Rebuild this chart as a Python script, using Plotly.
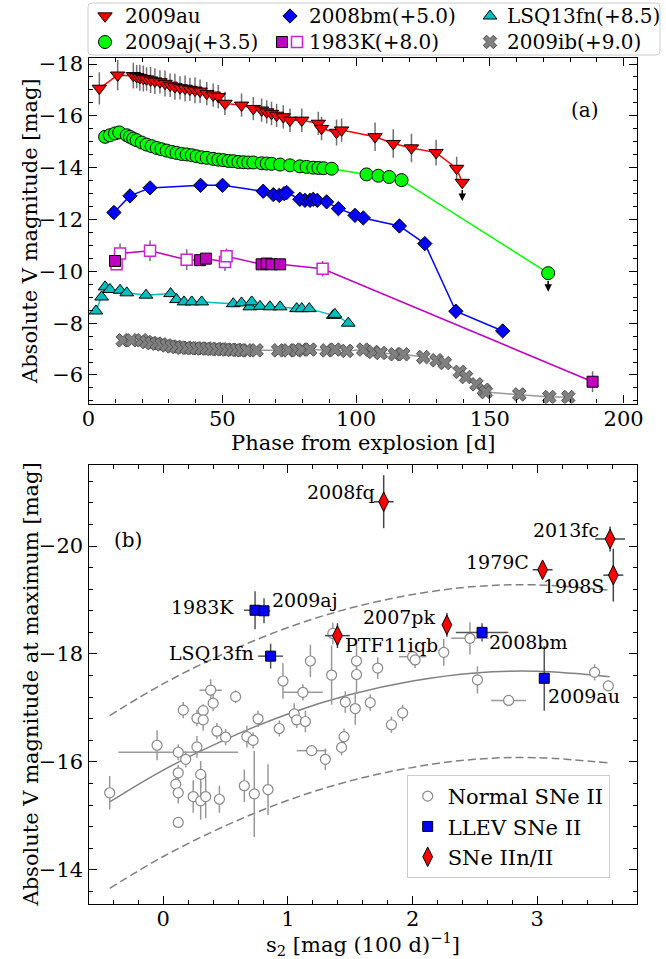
import plotly.graph_objects as go

FONT = "DejaVu Serif"
W, H = 666, 959

# ---------------- Panel (a) data ----------------
au_phase = [4.05, 10.9, 16.75, 18.0, 19.2, 20.5, 21.7, 23.2, 24.8, 26.7, 28.6, 30.5, 32.3, 34.2,
            36.1, 37.9, 39.8, 41.7, 44.2, 46.6, 48.5, 51.0, 57.2, 61.6, 64.7, 66.6, 68.4, 70.3,
            72.8, 75.3, 79.7, 85.9, 87.1, 92.7, 94.6, 107.1, 113.9, 120.7, 129.9, 137.6, 139.7]
au_mag = [-17.06, -17.57, -17.55, -17.51, -17.47, -17.44, -17.42, -17.38, -17.34, -17.31, -17.25,
          -17.18, -17.12, -17.08, -17.06, -17.02, -16.99, -16.95, -16.86, -16.80, -16.74, -16.48,
          -16.41, -16.28, -16.22, -16.15, -16.09, -16.02, -15.96, -15.83, -15.83, -15.71, -15.51,
          -15.36, -15.45, -15.19, -14.93, -14.76, -14.58, -13.97, -13.43]
au_err = [0.62, 0.58, 0.50, 0.45, 0.50, 0.50, 0.45, 0.50, 0.50, 0.45, 0.50, 0.45, 0.50, 0.45,
          0.50, 0.45, 0.50, 0.45, 0.45, 0.45, 0.45, 0.45, 0.45, 0.45, 0.45, 0.45, 0.45, 0.45,
          0.45, 0.45, 0.45, 0.45, 0.45, 0.50, 0.45, 0.55, 0.55, 0.55, 0.50, 0.45, 0.0]

aj_phase = [6.2, 8.0, 9.9, 11.5, 14.3, 15.5, 16.75, 18.0, 19.9, 21.7, 23.6, 25.5, 27.3, 29.2,
            31.1, 32.9, 34.8, 36.7, 38.6, 40.4, 42.3, 44.2, 46.6, 48.5, 50.4, 52.3, 54.1, 56.0,
            57.9, 59.7, 61.6, 64.7, 66.6, 68.4, 71.6, 75.3, 79.0, 81.5, 84.0, 85.9, 87.8, 90.9,
            103.9, 108.3, 112.4, 117.0, 171.8]
aj_mag = [-15.19, -15.25, -15.32, -15.36, -15.25, -15.19, -15.12, -15.06, -14.97, -14.89, -14.83,
          -14.76, -14.71, -14.66, -14.61, -14.57, -14.53, -14.51, -14.48, -14.44, -14.40, -14.38,
          -14.34, -14.31, -14.29, -14.26, -14.25, -14.22, -14.21, -14.20, -14.20, -14.17, -14.16,
          -14.15, -14.12, -14.09, -14.05, -14.03, -14.00, -13.99, -13.98, -13.96,
          -13.74, -13.69, -13.64, -13.52, -9.93]

bm_phase = [9.5, 15.5, 23.0, 41.9, 50.1, 65.3, 69.1, 71.3, 73.1, 74.1, 79.0, 80.9, 82.8, 84.0,
            85.5, 89.0, 93.4, 99.6, 102.7, 116.2, 125.7, 137.3, 154.8]
bm_mag = [-12.27, -12.91, -13.22, -13.32, -13.32, -13.09, -12.96, -12.93, -13.00, -13.04, -12.78,
          -12.74, -12.74, -12.78, -12.74, -12.68, -12.42, -12.16, -12.06, -11.75, -11.07, -8.46, -7.70]
bm_err = [0.05, 0.05, 0.05, 0.05, 0.05, 0.05, 0.05, 0.05, 0.05, 0.05, 0.05, 0.05, 0.05, 0.05,
          0.05, 0.05, 0.05, 0.05, 0.05, 0.10, 0.10, 0.28, 0.10]

k83_fill_phase = [9.9, 41.7, 43.9, 64.7, 66.6, 68.4, 71.6, 188.4]
k83_fill_mag = [-10.40, -10.43, -10.49, -10.27, -10.30, -10.27, -10.27, -5.74]
k83_fill_err = [0.20, 0.15, 0.15, 0.20, 0.15, 0.15, 0.15, 0.40]
k83_open_phase = [10.5, 11.8, 23.0, 36.7, 51.0, 51.6, 87.5]
k83_open_mag = [-10.27, -10.69, -10.79, -10.45, -10.36, -10.58, -10.10]
k83_open_err = [0.20, 0.38, 0.40, 0.40, 0.35, 0.30, 0.30]

fn_phase = [2.8, 4.9, 6.2, 8.0, 11.8, 14.3, 21.5, 30.7, 32.9, 35.7, 38.6, 42.3, 54.1, 57.2,
            60.3, 61.0, 64.1, 67.8, 71.6, 77.8, 79.7, 82.5, 91.5, 92.1, 97.1]
fn_mag = [-8.47, -9.01, -9.40, -9.30, -9.27, -9.17, -9.08, -9.14, -8.91, -8.82, -8.82, -8.82,
          -8.75, -8.78, -8.63, -8.82, -8.65, -8.63, -8.63, -8.56, -8.56, -8.56, -8.30, -8.34, -8.00]

ib_phase = [12.8, 16.1, 19.9, 21.7, 23.6, 25.5, 27.3, 29.2, 31.1, 32.9, 34.8, 36.7, 38.6, 40.4,
            42.3, 44.2, 46.0, 47.9, 49.8, 51.6, 53.5, 55.4, 57.2, 59.1, 62.8, 70.9, 74.7, 77.8,
            79.7, 82.8, 89.0, 92.1, 96.5, 102.7, 106.4, 109.2, 114.5, 117.6, 125.1, 130.1, 133.2,
            138.8, 141.1, 145.0, 147.8, 148.5, 161.0, 172.2, 179.3]
ib_mag = [-7.34, -7.34, -7.34, -7.27, -7.23, -7.21, -7.18, -7.14, -7.10, -7.08, -7.05, -7.05,
          -7.03, -7.03, -7.02, -7.02, -7.00, -7.00, -6.99, -6.98, -6.97, -6.97, -6.95, -6.95,
          -6.95, -6.95, -6.95, -6.95, -6.98, -6.98, -6.95, -6.98, -6.93, -6.98, -6.89, -6.85,
          -6.80, -6.80, -6.69, -6.57, -6.46, -6.12, -5.92, -5.64, -5.43, -5.34, -5.25, -5.15, -5.15]

# upper limits (phase, mag) taken from the last points of 2009au and 2009aj
limit_phase = [au_phase[-1], aj_phase[-1]]
limit_mag = [au_mag[-1], aj_mag[-1]]

# ---------------- Panel (b) data ----------------
normal_s = [-0.43, -0.05, 0.12, 0.18, 0.27, 0.16, 0.27, 0.32, 0.32, 0.38, 0.40, 0.43, 0.50, 0.58,
            0.12, 0.10, 0.12, 0.12, 0.30, 0.24, 0.30, 0.34, 0.45, 0.65, 0.73, 0.84, 0.67, 0.72,
            0.76, 0.93, 0.96, 1.05, 1.07, 1.12, 1.14, 1.18, 1.19, 1.30, 1.35, 1.45, 1.43, 1.46,
            1.54, 1.55, 1.55, 1.66, 1.72, 1.36, 1.83, 1.92, 2.00, 2.02, 2.25, 2.46, 2.52, 2.77,
            3.46, 3.57]
normal_m = [-15.43, -16.31, -16.18, -16.05, -16.28, -16.96, -16.81, -16.95, -16.78, -17.33, -17.09,
            -16.57, -16.46, -17.21, -15.80, -15.59, -15.43, -14.88, -15.77, -15.36, -15.28, -15.36,
            -15.31, -15.56, -15.41, -15.49, -16.47, -16.40, -16.80, -16.62, -17.50, -16.89, -16.78,
            -17.29, -16.75, -17.87, -16.21, -16.05, -17.61, -16.47, -16.27, -17.11, -16.99, -17.87,
            -17.62, -17.10, -17.74, -18.38, -16.69, -16.91, -17.95, -17.89, -18.03, -18.29, -17.52,
            -17.14, -17.66, -17.41]
normal_se = [0, 0, 0.48, 0, 0, 0, 0, 0, 0, 0.09, 0, 0, 0, 0,
             0, 0, 0, 0, 0, 0, 0, 0, 0, 0, 0, 0, 0, 0,
             0, 0, 0, 0, 0, 0.16, 0, 0, 0.12, 0, 0, 0, 0, 0,
             0, 0, 0, 0, 0, 0, 0, 0, 0.11, 0, 0, 0.15, 0, 0.14,
             0, 0]
normal_me = [0.31, 0.28, 0.15, 0.15, 0.20, 0.15, 0.15, 0.12, 0.20, 0.20, 0.15, 0.15, 0.15, 0.12,
             0.15, 0.12, 0.20, 0.0, 0.25, 0.30, 0.35, 0.40, 0.25, 0.30, 0.80, 0.47, 0.20, 0.15,
             0.15, 0.15, 0.33, 0.20, 0.15, 0.15, 0.20, 0.30, 0.10, 0.20, 0.55, 0.15, 0.15, 0.20,
             0.30, 0.35, 0.35, 0.15, 0.20, 0.20, 0.15, 0.15, 0.10, 0.15, 0.25, 0.30, 0.25, 0.10,
             0.15, 0.10]

llev_names = ["1983K", "2009aj", "LSQ13fn", "2008bm", "2009au"]
llev_s = [0.736, 0.808, 0.861, 2.557, 3.056]
llev_m = [-18.81, -18.80, -17.96, -18.40, -17.55]
llev_se = [0.09, 0.05, 0.10, 0.21, 0.0]
llev_me = [0.35, 0.23, 0.23, 0.17, 0.60]

iin_names = ["2008fq", "2013fc", "1979C", "1998S", "2007pk", "PTF11iqb"]
iin_s = [1.768, 3.584, 3.043, 3.610, 2.275, 1.397]
iin_m = [-20.82, -20.13, -19.56, -19.46, -18.54, -18.34]
iin_se = [0.08, 0.12, 0.08, 0.08, 0.03, 0.10]
iin_me = [0.49, 0.23, 0.05, 0.49, 0.22, 0.23]

fit_s = [-0.43, 0.0, 0.5, 1.0, 1.5, 2.0, 2.5, 3.0, 3.58]
fit_mid = [-15.26, -15.85, -16.42, -16.89, -17.25, -17.50, -17.65, -17.68, -17.58]
fit_up = [-16.86, -17.45, -18.02, -18.49, -18.85, -19.10, -19.25, -19.28, -19.18]
fit_lo = [-13.66, -14.25, -14.82, -15.29, -15.65, -15.90, -16.05, -16.08, -15.98]

# label placement styles: (xanchor, xshift px, yshift px)
label_style = {
    "2008fq": ("right", -7, 10), "2013fc": ("right", -9, 9), "1979C": ("right", -12, 8),
    "1998S": ("right", -7, -11), "2007pk": ("right", -9, 8), "PTF11iqb": ("left", 6, -9),
    "2008bm": ("left", 5, -10), "2009au": ("left", 2, -18), "1983K": ("right", -19, 3),
    "2009aj": ("left", 6, 11), "LSQ13fn": ("right", -15, 3),
}

RED, LIME, BLUE, CYAN, MAG, GRAY = "#ff0000", "#00ff00", "#0000ff", "#00bfbf", "#bf00bf", "#808080"

fig = go.Figure()

def ebar(arr, color="#707070", th=1.5):
    return dict(type="data", array=arr, visible=True, color=color, thickness=th, width=0)

# ---- panel a traces ----
k83_all = sorted(zip(k83_fill_phase + k83_open_phase, k83_fill_mag + k83_open_mag))
fig.add_trace(go.Scatter(x=[p for p, _ in k83_all], y=[m for _, m in k83_all], mode="lines",
                         line=dict(color=MAG, width=1.5), xaxis="x", yaxis="y", showlegend=False))
fig.add_trace(go.Scatter(x=ib_phase, y=ib_mag, mode="lines+markers", xaxis="x", yaxis="y",
                         line=dict(color="#999999", width=1.5),
                         marker=dict(symbol="x", size=12, color=GRAY, line=dict(color="#505050", width=1)),
                         showlegend=False))
fig.add_trace(go.Scatter(x=fn_phase, y=fn_mag, mode="lines+markers", xaxis="x", yaxis="y",
                         line=dict(color=CYAN, width=1.5),
                         marker=dict(symbol="triangle-up", size=12, color=CYAN, line=dict(color="black", width=1)),
                         showlegend=False))
fig.add_trace(go.Scatter(x=k83_open_phase, y=k83_open_mag, mode="markers", xaxis="x", yaxis="y",
                         error_y=ebar(k83_open_err),
                         marker=dict(symbol="square", size=11, color="white", line=dict(color="#d020d0", width=1.5)),
                         showlegend=False))
fig.add_trace(go.Scatter(x=k83_fill_phase, y=k83_fill_mag, mode="markers", xaxis="x", yaxis="y",
                         error_y=ebar(k83_fill_err),
                         marker=dict(symbol="square", size=11, color=MAG, line=dict(color="black", width=1)),
                         showlegend=False))
fig.add_trace(go.Scatter(x=bm_phase, y=bm_mag, mode="lines+markers", xaxis="x", yaxis="y",
                         line=dict(color=BLUE, width=1.5), error_y=ebar(bm_err),
                         marker=dict(symbol="diamond", size=11, color=BLUE, line=dict(color="black", width=1)),
                         showlegend=False))
fig.add_trace(go.Scatter(x=aj_phase, y=aj_mag, mode="lines+markers", xaxis="x", yaxis="y",
                         line=dict(color=LIME, width=1.5),
                         marker=dict(symbol="circle", size=13, color=LIME, line=dict(color="black", width=1)),
                         showlegend=False))
fig.add_trace(go.Scatter(x=au_phase, y=au_mag, mode="lines+markers", xaxis="x", yaxis="y",
                         line=dict(color=RED, width=1.5), error_y=ebar(au_err),
                         marker=dict(symbol="triangle-down", size=12.5, color=RED, line=dict(color="black", width=1)),
                         showlegend=False))

annotations = []
for p, m in zip(limit_phase, limit_mag):
    annotations.append(dict(x=p, y=m + 0.72, ax=p, ay=m, xref="x", yref="y", axref="x", ayref="y",
                            text="", showarrow=True, arrowhead=2, arrowsize=1, arrowwidth=1.5,
                            arrowcolor="black", startstandoff=6))
annotations.append(dict(x=0.905, y=0.85, xref="x domain", yref="y domain", text="(a)", showarrow=False,
                        xanchor="center", yanchor="middle",
                        font=dict(family=FONT, size=20, color="black")))

# ---- panel b traces ----
fig.add_trace(go.Scatter(x=fit_s, y=fit_up, mode="lines", line=dict(color=GRAY, width=1.5, dash="8px,4px", shape="spline"),
                         xaxis="x2", yaxis="y2", showlegend=False))
fig.add_trace(go.Scatter(x=fit_s, y=fit_lo, mode="lines", line=dict(color=GRAY, width=1.5, dash="8px,4px", shape="spline"),
                         xaxis="x2", yaxis="y2", showlegend=False))
fig.add_trace(go.Scatter(x=fit_s, y=fit_mid, mode="lines", line=dict(color=GRAY, width=1.5, shape="spline"),
                         xaxis="x2", yaxis="y2", showlegend=False))
fig.add_trace(go.Scatter(x=normal_s, y=normal_m, mode="markers", xaxis="x2", yaxis="y2", name="Normal SNe II",
                         error_x=ebar(normal_se, "#999999"), error_y=ebar(normal_me, "#999999"),
                         marker=dict(symbol="circle", size=10, color="white", line=dict(color="#888888", width=1.2)),
                         showlegend=True))
fig.add_trace(go.Scatter(x=llev_s, y=llev_m, mode="markers", xaxis="x2", yaxis="y2", name="LLEV SNe II",
                         error_x=ebar(llev_se, "#555555"), error_y=ebar(llev_me, "#555555"),
                         marker=dict(symbol="square", size=10, color=BLUE, line=dict(color="black", width=1)),
                         showlegend=True))
fig.add_trace(go.Scatter(x=iin_s, y=iin_m, mode="markers", xaxis="x2", yaxis="y2", name="SNe IIn/II",
                         error_x=ebar(iin_se, "#444444"), error_y=ebar(iin_me, "#444444"),
                         marker=dict(symbol="diamond-tall", size=14, color=RED, line=dict(color="black", width=1)),
                         showlegend=True))

for names, xs, ys in ((llev_names, llev_s, llev_m), (iin_names, iin_s, iin_m)):
    for n, xv, yv in zip(names, xs, ys):
        anc, dx, dy = label_style[n]
        annotations.append(dict(x=xv, y=yv, xref="x2", yref="y2", text=n, showarrow=False,
                                xanchor=anc, yanchor="middle", xshift=dx, yshift=dy,
                                font=dict(family=FONT, size=19, color="black")))
annotations.append(dict(x=0.072, y=0.829, xref="x2 domain", yref="y2 domain", text="(b)", showarrow=False,
                        xanchor="center", yanchor="middle",
                        font=dict(family=FONT, size=20, color="black")))

# ---- axis titles (as annotations) ----
tfont = dict(family=FONT, size=21, color="black")
annotations += [
    dict(x=362.75 / W, y=1 - 443 / H, xref="paper", yref="paper", text="Phase from explosion [d]",
         showarrow=False, font=tfont, xanchor="center", yanchor="middle"),
    dict(x=30 / W, y=1 - 231 / H, xref="paper", yref="paper", text="Absolute V magnitude [mag]",
         showarrow=False, font=tfont, textangle=-90, xanchor="center", yanchor="middle"),
    dict(x=362.75 / W, y=1 - 944 / H, xref="paper", yref="paper", text="s<sub>2</sub> [mag (100 d)<sup>−1</sup>]",
         showarrow=False, font=tfont, xanchor="center", yanchor="middle"),
    dict(x=30 / W, y=1 - 684.5 / H, xref="paper", yref="paper", text="Absolute V magnitude at maximum [mag]",
         showarrow=False, font=tfont, textangle=-90, xanchor="center", yanchor="middle"),
]

# ---- custom legend for panel a (pixel-based overlay axis) ----
leg_items = [
    ("2009au", [("triangle-down", RED, "black", 105)], 123, 16),
    ("2009aj(+3.5)", [("circle", LIME, "black", 105)], 123, 42),
    ("2008bm(+5.0)", [("diamond", BLUE, "black", 290)], 307, 16),
    ("1983K(+8.0)", [("square", MAG, "black", 282), ("square", "white", "#d020d0", 297)], 307, 42),
    ("LSQ13fn(+8.5)", [("triangle-up", CYAN, "black", 490)], 505, 16),
    ("2009ib(+9.0)", [("x", GRAY, "#505050", 490)], 505, 42),
]
sizes = {"triangle-down": 12.5, "circle": 13, "diamond": 11, "square": 11, "triangle-up": 12, "x": 12}
for label, marks, tx, ty in leg_items:
    for sym, fc, lc, mx in marks:
        fig.add_trace(go.Scatter(x=[mx], y=[ty], mode="markers", xaxis="x3", yaxis="y3", showlegend=False,
                                 marker=dict(symbol=sym, size=sizes[sym], color=fc,
                                             line=dict(color=lc, width=1.5 if fc == "white" else 1)),
                                 hoverinfo="skip"))
    annotations.append(dict(x=tx, y=ty, xref="x3", yref="y3", text=label, showarrow=False,
                            xanchor="left", yanchor="middle", font=dict(family=FONT, size=20, color="black")))

shapes = [dict(type="path", xref="x3", yref="y3", layer="below",
               path="M 92,3 L 656,3 Q 660,3 660,7 L 660,51 Q 660,55 656,55 L 92,55 Q 88,55 88,51 L 88,7 Q 88,3 92,3 Z",
               line=dict(color="#cccccc", width=1), fillcolor="rgba(255,255,255,0.8)")]

xdom = [88.5 / W, 637 / W]
axis_common = dict(showline=True, linecolor="black", linewidth=1.2, mirror="allticks", ticks="inside",
                   ticklen=8, tickwidth=1.1, tickcolor="black", showgrid=False, zeroline=False,
                   automargin=False, tickfont=dict(family=FONT, size=21, color="black"))

fig.update_layout(
    width=W, height=H, margin=dict(l=0, r=0, t=0, b=0, autoexpand=False), paper_bgcolor="white",
    plot_bgcolor="white", font=dict(family=FONT, color="black"),
    xaxis=dict(domain=xdom, anchor="y", range=[0, 205], tick0=0, dtick=50, ticklabelstandoff=-4,
               minor=dict(ticks="inside", dtick=10, ticklen=4, tickcolor="black"), **axis_common),
    yaxis=dict(domain=[1 - 403.5 / H, 1 - 58.3 / H], anchor="x", range=[-4.9, -18.22], tick0=0, dtick=2,
               minor=dict(ticks="inside", dtick=0.5, ticklen=4, tickcolor="black"), **axis_common),
    xaxis2=dict(domain=xdom, anchor="y2", range=[-0.6, 3.8], tick0=0, dtick=1, ticklabelstandoff=-4,
                minor=dict(ticks="inside", dtick=0.2, ticklen=4, tickcolor="black"), **axis_common),
    yaxis2=dict(domain=[1 - 904 / H, 1 - 465 / H], anchor="x2", range=[-13.37, -21.5], tick0=0, dtick=2,
                minor=dict(ticks="inside", dtick=0.4, ticklen=4, tickcolor="black"), **axis_common),
    xaxis3=dict(domain=[0, 1], anchor="y3", range=[0, W], visible=False, fixedrange=True, automargin=False),
    yaxis3=dict(domain=[1 - 58 / H, 1], anchor="x3", range=[58, 0], visible=False, fixedrange=True, automargin=False),
    legend=dict(x=406.7 / W, y=1 - 775 / H, xanchor="left", yanchor="top",
                bgcolor="rgba(255,255,255,0.8)", bordercolor="#cccccc", borderwidth=1,
                font=dict(family=FONT, size=21, color="black"), tracegroupgap=0),
    annotations=annotations, shapes=shapes, hovermode=False,
)

fig.write_html("out.html", config={"displayModeBar": False},
               post_script="document.body.style.margin='0';document.body.style.overflow='hidden';")
